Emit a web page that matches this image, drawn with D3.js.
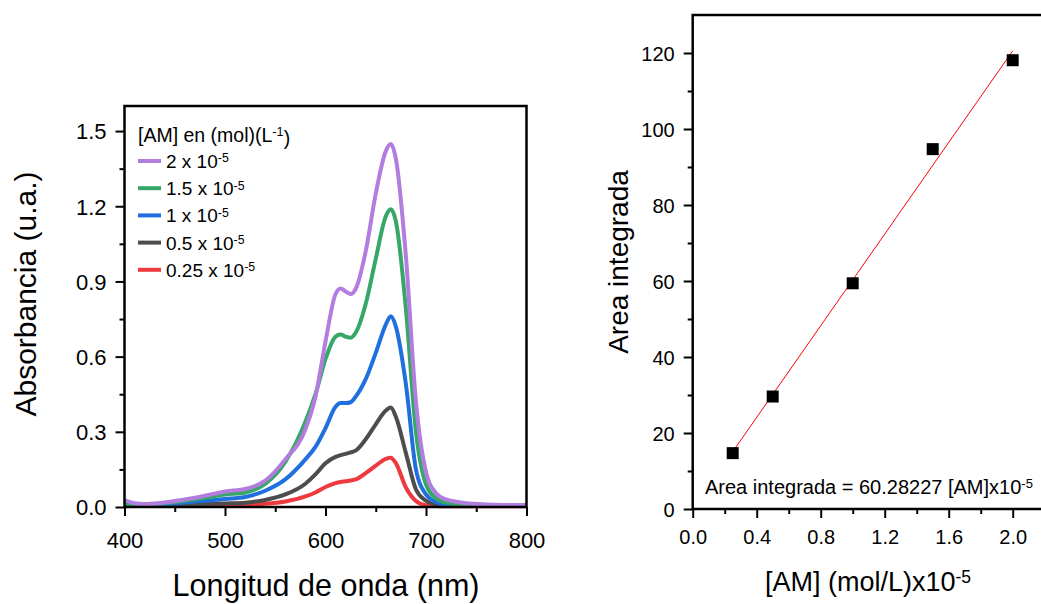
<!DOCTYPE html>
<html><head><meta charset="utf-8">
<script src="https://cdn.jsdelivr.net/npm/d3@7"></script>
<style>
html,body{margin:0;padding:0;background:#fff;}
text{font-family:"Liberation Sans",Arial,sans-serif;fill:#000;}
</style></head>
<body>
<svg id="chart" width="1041" height="604"></svg>
<script>
// ---------- DATA ----------
const wavelengths = [400,410,420,440,460,480,500,520,540,560,580,590,600,610,615,620,625,630,640,650,660,665,670,680,690,700,710,720,740,760,780,800];
const abs_2    = [0.028,0.015,0.012,0.018,0.030,0.045,0.062,0.072,0.105,0.190,0.310,0.440,0.660,0.850,0.872,0.860,0.850,0.870,1.020,1.250,1.420,1.448,1.390,1.000,0.420,0.140,0.055,0.030,0.015,0.010,0.008,0.007];
const abs_15   = [0.018,0.010,0.010,0.016,0.025,0.037,0.050,0.058,0.092,0.180,0.340,0.450,0.590,0.680,0.688,0.680,0.675,0.695,0.810,0.990,1.160,1.188,1.140,0.790,0.300,0.090,0.035,0.018,0.010,0.008,0.007,0.006];
const abs_1    = [0.015,0.008,0.007,0.012,0.018,0.025,0.032,0.040,0.065,0.110,0.190,0.240,0.315,0.400,0.415,0.415,0.418,0.440,0.510,0.615,0.728,0.761,0.720,0.490,0.150,0.050,0.020,0.010,0.006,0.005,0.005,0.005];
const abs_05   = [0.012,0.006,0.005,0.007,0.010,0.012,0.014,0.017,0.028,0.050,0.093,0.130,0.175,0.200,0.207,0.212,0.218,0.225,0.270,0.330,0.385,0.397,0.360,0.215,0.070,0.025,0.010,0.006,0.004,0.004,0.004,0.004];
const abs_025  = [0.010,0.005,0.004,0.005,0.006,0.007,0.008,0.010,0.013,0.022,0.042,0.058,0.080,0.095,0.100,0.103,0.106,0.110,0.135,0.165,0.192,0.197,0.175,0.078,0.024,0.007,0.004,0.003,0.003,0.003,0.003,0.003];
const seriesLabels = ["2","1.5","1","0.5","0.25"];
const seriesColors = ["#b27ddf","#37a767","#1f6fde","#4d4d4d","#ee3a3f"];
const seriesValues = [abs_2, abs_15, abs_1, abs_05, abs_025];

const concX   = [0.25, 0.5, 1.0, 1.5, 2.0];
const areaY   = [14.7, 29.6, 59.4, 94.7, 118.1];
const slope   = 60.28227;

const leftXTicks  = [400,500,600,700,800];
const leftYTicks  = [0,0.3,0.6,0.9,1.2,1.5];
const rightXTicks = [0,0.4,0.8,1.2,1.6,2.0];
const rightYTicks = [0,20,40,60,80,100,120];

// ---------- DRAW ----------
const svg = d3.select("#chart");
const FONT = '"Liberation Sans",Arial,sans-serif';

function addSup(sel, base, sup, after){
  sel.append("tspan").text(base);
  sel.append("tspan").attr("dy","-0.45em").attr("font-size","0.65em").text(sup);
  if(after){ sel.append("tspan").attr("dy","0.45em").text(after); }
}

// ===== Left chart =====
const xL = d3.scaleLinear().domain([400,800]).range([124.5,526.5]);
const yL = d3.scaleLinear().domain([0,1.6]).range([507,106]);

const gL = svg.append("g");
gL.append("g").attr("transform","translate(0,507)")
  .call(d3.axisBottom(xL).tickValues([450,550,650,750]).tickSize(5).tickFormat(""))
  .call(g=>g.select(".domain").remove())
  .call(g=>g.selectAll("line").attr("stroke-width",2));
gL.append("g").attr("transform","translate(124.5,0)")
  .call(d3.axisLeft(yL).tickValues([0.15,0.45,0.75,1.05,1.35]).tickSize(5).tickFormat(""))
  .call(g=>g.select(".domain").remove())
  .call(g=>g.selectAll("line").attr("stroke-width",2));
gL.append("g").attr("transform","translate(0,507)")
  .call(d3.axisBottom(xL).tickValues(leftXTicks).tickSize(9).tickPadding(16).tickFormat(d3.format("d")))
  .call(g=>g.select(".domain").remove())
  .call(g=>g.selectAll("line").attr("stroke-width",2))
  .call(g=>g.selectAll("text").attr("font-size",22).attr("font-family",FONT).attr("fill","#000"));
gL.append("g").attr("transform","translate(124.5,0)")
  .call(d3.axisLeft(yL).tickValues(leftYTicks).tickSize(9).tickPadding(9).tickFormat(d3.format(".1f")))
  .call(g=>g.select(".domain").remove())
  .call(g=>g.selectAll("line").attr("stroke-width",2))
  .call(g=>g.selectAll("text").attr("font-size",22).attr("font-family",FONT).attr("fill","#000").attr("dy","0.36em"));

const line = d3.line().x((d,i)=>xL(wavelengths[i])).y(d=>yL(d)).curve(d3.curveMonotoneX);
const order = [4,3,2,1,0];
order.forEach(k=>{
  gL.append("path").datum(seriesValues[k]).attr("d",line)
    .attr("fill","none").attr("stroke",seriesColors[k]).attr("stroke-width",4)
    .attr("stroke-linejoin","round");
});
gL.append("rect").attr("x",124.5).attr("y",106).attr("width",402).attr("height",401)
  .attr("fill","none").attr("stroke","#000").attr("stroke-width",2.5);

const lg = gL.append("g");
const lt = lg.append("text").attr("x",138).attr("y",142).attr("font-size",19.5);
addSup(lt,"[AM] en (mol)(L","-1",")");
seriesLabels.forEach((lab,i)=>{
  const cy = 161 + i*27.2;
  lg.append("line").attr("x1",138).attr("x2",161).attr("y1",cy).attr("y2",cy)
    .attr("stroke",seriesColors[i]).attr("stroke-width",4);
  const t = lg.append("text").attr("x",166).attr("y",cy+7).attr("font-size",19);
  addSup(t, lab+" x 10","-5");
});

svg.append("text").attr("transform","translate(36,294) rotate(-90)").attr("text-anchor","middle")
  .attr("font-size",30).text("Absorbancia (u.a.)");
svg.append("text").attr("x",326).attr("y",596).attr("text-anchor","middle")
  .attr("font-size",30.5).text("Longitud de onda (nm)");

// ===== Right chart =====
const xR = d3.scaleLinear().domain([0,2.2]).range([692.7,1044.7]);
const yR = d3.scaleLinear().domain([0,130]).range([509,15]);
const gR = svg.append("g");
gR.append("g").attr("transform","translate(0,509)")
  .call(d3.axisBottom(xR).tickValues([0.2,0.6,1.0,1.4,1.8]).tickSize(5).tickFormat(""))
  .call(g=>g.select(".domain").remove())
  .call(g=>g.selectAll("line").attr("stroke-width",2));
gR.append("g").attr("transform","translate(692.7,0)")
  .call(d3.axisLeft(yR).tickValues([10,30,50,70,90,110]).tickSize(5).tickFormat(""))
  .call(g=>g.select(".domain").remove())
  .call(g=>g.selectAll("line").attr("stroke-width",2));
gR.append("g").attr("transform","translate(0,509)")
  .call(d3.axisBottom(xR).tickValues(rightXTicks).tickSize(9).tickPadding(12).tickFormat(d3.format(".1f")))
  .call(g=>g.select(".domain").remove())
  .call(g=>g.selectAll("line").attr("stroke-width",2))
  .call(g=>g.selectAll("text").attr("font-size",20).attr("font-family",FONT).attr("fill","#000"));
gR.append("g").attr("transform","translate(692.7,0)")
  .call(d3.axisLeft(yR).tickValues(rightYTicks).tickSize(9).tickPadding(9).tickFormat(d3.format("d")))
  .call(g=>g.select(".domain").remove())
  .call(g=>g.selectAll("line").attr("stroke-width",2))
  .call(g=>g.selectAll("text").attr("font-size",20).attr("font-family",FONT).attr("fill","#000").attr("dy","0.36em"));

const fitX = [concX[0], concX[concX.length-1]];
gR.append("line").attr("x1",xR(fitX[0])).attr("y1",yR(slope*fitX[0]))
  .attr("x2",xR(fitX[1])).attr("y2",yR(slope*fitX[1]))
  .attr("stroke","#ff0000").attr("stroke-width",1);
gR.selectAll("rect.pt").data(concX).enter().append("rect").attr("class","pt")
  .attr("x",(d)=>xR(d)-6).attr("y",(d,i)=>yR(areaY[i])-6).attr("width",12).attr("height",12)
  .attr("fill","#000");
gR.append("rect").attr("x",692.7).attr("y",15).attr("width",352).attr("height",494)
  .attr("fill","none").attr("stroke","#000").attr("stroke-width",2.5);

const an = gR.append("text").attr("x",705).attr("y",494).attr("font-size",20);
addSup(an,"Area integrada = 60.28227 [AM]x10","-5");

svg.append("text").attr("transform","translate(628,262) rotate(-90)").attr("text-anchor","middle")
  .attr("font-size",28).text("Area integrada");
const xt = svg.append("text").attr("x",868).attr("y",591).attr("text-anchor","middle").attr("font-size",27);
addSup(xt,"[AM] (mol/L)x10","-5");
</script>
</body></html>
